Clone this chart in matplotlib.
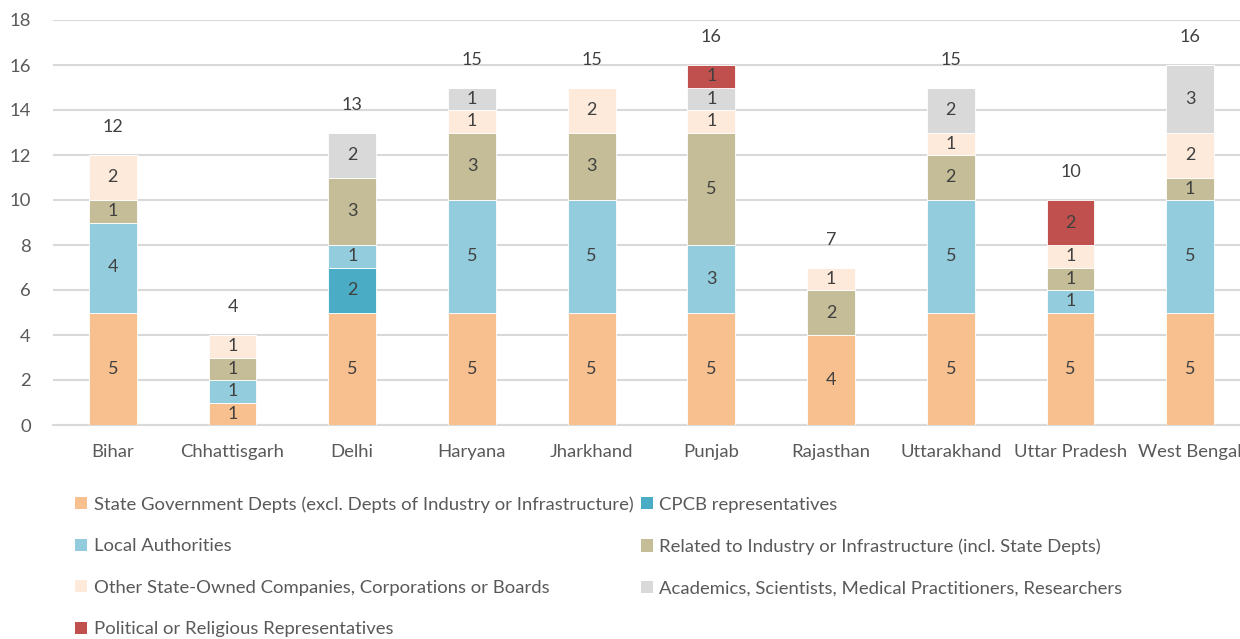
import matplotlib
matplotlib.use("Agg")
import matplotlib.pyplot as plt
import numpy as np
from matplotlib.patches import Patch

plt.rcParams["font.family"] = ["Lato", "DejaVu Sans"]

states = ["Bihar", "Chhattisgarh", "Delhi", "Haryana", "Jharkhand",
          "Punjab", "Rajasthan", "Uttarakhand", "Uttar Pradesh", "West Bengal"]

state_govt = [5, 1, 5, 5, 5, 5, 4, 5, 5, 5]
cpcb = [0, 0, 2, 0, 0, 0, 0, 0, 0, 0]
local_auth = [4, 1, 1, 5, 5, 3, 0, 5, 1, 5]
industry = [1, 1, 3, 3, 3, 5, 2, 2, 1, 1]
other_owned = [2, 1, 0, 1, 2, 1, 1, 1, 1, 2]
academics = [0, 0, 2, 1, 0, 1, 0, 2, 0, 3]
political = [0, 0, 0, 0, 0, 1, 0, 0, 2, 0]

series = [
    ("State Government Depts (excl. Depts of Industry or Infrastructure)", state_govt, "#F9C08F"),
    ("CPCB representatives", cpcb, "#4BACC6"),
    ("Local Authorities", local_auth, "#93CDDD"),
    ("Related to Industry or Infrastructure (incl. State Depts)", industry, "#C4BD97"),
    ("Other State-Owned Companies, Corporations or Boards", other_owned, "#FDEADA"),
    ("Academics, Scientists, Medical Practitioners, Researchers", academics, "#D9D9D9"),
    ("Political or Religious Representatives", political, "#C0504D"),
]

fig = plt.figure(figsize=(12.4, 6.39), dpi=100)
ax = fig.add_axes([53 / 1240, 1 - 425 / 639, 1197 / 1240, 405 / 639])

x = np.arange(len(states))
bottom = np.zeros(len(states))
handles = {}
for name, vals, color in series:
    vals = np.array(vals, dtype=float)
    ax.bar(x, vals, 0.4, bottom=bottom, color=color,
           edgecolor="white", linewidth=0.6, zorder=3)
    for xi, b, v in zip(x, bottom, vals):
        if v > 0:
            ax.text(xi, b + v / 2, f"{int(v)}", ha="center", va="center",
                    fontsize=13, color="#404040", zorder=4)
    handles[name] = Patch(facecolor=color, label=name)
    bottom += vals

# totals above each bar
for xi, tot in zip(x, bottom):
    ax.annotate(f"{int(tot)}", (xi, tot), xytext=(0, 20), textcoords="offset points",
                ha="center", va="center", fontsize=13, color="#404040")

ax.set_xlim(-0.5, 9.5)
ax.set_ylim(0, 18)
ax.set_yticks(range(0, 19, 2))
ax.set_xticks(x)
ax.set_xticklabels(states)
ax.tick_params(axis="both", length=0, labelsize=13.3, labelcolor="#595959")
ax.tick_params(axis="x", pad=14)
ax.tick_params(axis="y", pad=16)
ax.grid(axis="y", color="#D9D9D9", linewidth=1.5, zorder=0)
for s in ["top", "right", "left"]:
    ax.spines[s].set_visible(False)
ax.spines["bottom"].set_color("#D9D9D9")
ax.spines["bottom"].set_linewidth(1.5)

order = [0, 2, 4, 6, 1, 3, 5]
leg_handles = [handles[series[i][0]] for i in order]
fig.legend(handles=leg_handles, ncol=2, loc="upper left",
           bbox_to_anchor=(66 / 1240, 1 - 487 / 639), frameon=False,
           fontsize=13.3, labelcolor="#595959", handlelength=0.65,
           handleheight=0.65, handletextpad=0.35, columnspacing=0.4,
           labelspacing=1.38, borderpad=0)

fig.savefig("out.png", dpi=100)
